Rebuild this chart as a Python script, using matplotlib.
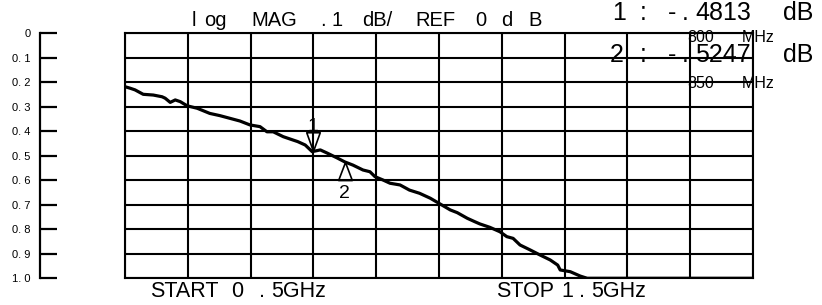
import matplotlib
matplotlib.use('Agg')
import matplotlib.pyplot as plt
import numpy as np

plt.rcParams['font.family'] = ['Liberation Sans', 'DejaVu Sans']

# trace: frequency (GHz) vs loss (dB, shown downward)
freq = [0.500, 0.508, 0.516, 0.529, 0.545, 0.559, 0.564, 0.572, 0.580, 0.588,
        0.599, 0.615, 0.635, 0.651, 0.667, 0.683, 0.699, 0.715, 0.726, 0.736,
        0.752, 0.768, 0.775, 0.787, 0.798, 0.811, 0.822, 0.838, 0.850, 0.863,
        0.879, 0.890, 0.898, 0.911, 0.922, 0.938, 0.953, 0.969, 0.986, 1.002,
        1.018, 1.029, 1.045, 1.057, 1.065, 1.081, 1.097, 1.108, 1.118, 1.129,
        1.145, 1.161, 1.177, 1.189, 1.193, 1.209, 1.225, 1.236, 1.500]
loss = [0.218, 0.224, 0.231, 0.249, 0.252, 0.259, 0.265, 0.282, 0.272, 0.279,
        0.296, 0.306, 0.327, 0.336, 0.347, 0.358, 0.374, 0.381, 0.402, 0.402,
        0.422, 0.436, 0.442, 0.456, 0.483, 0.476, 0.489, 0.509, 0.525, 0.538,
        0.558, 0.565, 0.585, 0.599, 0.612, 0.619, 0.640, 0.653, 0.673, 0.697,
        0.721, 0.732, 0.755, 0.769, 0.778, 0.792, 0.810, 0.830, 0.837, 0.864,
        0.884, 0.905, 0.925, 0.946, 0.966, 0.973, 0.991, 1.000, 1.000]

marker_freq = [0.80, 0.85]
marker_loss = [0.4813, 0.5247]
marker_names = ['1', '2']

scale_ticks = np.linspace(0, 1, 11)
scale_labels = ['0', '0. 1', '0. 2', '0. 3', '0. 4', '0. 5', '0. 6', '0. 7',
                '0. 8', '0. 9', '1. 0']

W, H = 822, 305
fig = plt.figure(figsize=(W / 100, H / 100), dpi=100)


def put_tokens(tokens, baseline, size):
    """place screen text piece by piece (x in pixels from left, baseline in pixels from top)"""
    for s, x in tokens:
        fig.text(x / W, 1 - baseline / H, s, fontsize=size, va='baseline',
                 ha='left', zorder=10)


# main graticule
ax = fig.add_axes([125 / W, 1 - 278.3 / H, 628 / W, 245 / H])
ax.set_xlim(0.5, 1.5)
ax.set_ylim(1.0, 0.0)
ax.set_xticks(np.linspace(0.5, 1.5, 11))
ax.set_yticks(scale_ticks)
ax.tick_params(length=0, labelbottom=False, labelleft=False)
ax.grid(True, color='black', lw=1.5)
for s in ax.spines.values():
    s.set_linewidth(1.5)

ax.plot(freq, loss, color='black', lw=2.3, zorder=3)

# marker triangles (tip sits on the trace)
down_tri = [(0, 0), (-0.36, 1), (0.36, 1), (0, 0)]
up_tri = [(0, 0), (-0.38, -1), (0.38, -1), (0, 0)]
ax.plot(marker_freq[0], marker_loss[0], marker=down_tri, ms=27, mfc='none',
        mec='black', mew=1.2, zorder=4)
ax.plot(marker_freq[1], marker_loss[1], marker=up_tri, ms=26, mfc='none',
        mec='black', mew=1.2, zorder=4)
ax.annotate(marker_names[0], (marker_freq[0], marker_loss[0]), xytext=(0, 14.5),
            textcoords='offset points', ha='center', va='baseline', fontsize=14)
ax.annotate(marker_names[1], (marker_freq[1], marker_loss[1]), xytext=(0, -16.5),
            textcoords='offset points', ha='center', va='top', fontsize=14)

# left scale
sx = fig.add_axes([40 / W, 1 - 278.3 / H, 30 / W, 245 / H])
sx.set_ylim(1.0, 0.0)
sx.set_yticks(scale_ticks)
sx.set_yticklabels(scale_labels)
sx.set_xticks([])
for k in ['top', 'right', 'bottom']:
    sx.spines[k].set_visible(False)
sx.spines['left'].set_linewidth(1.6)
sx.tick_params(axis='y', direction='in', length=12.5, width=1.6, pad=7,
               labelsize=8)
sx.patch.set_visible(False)

# screen annotations
put_tokens([('l', 192), ('og', 204), ('MAG', 251), ('.', 320), ('1', 331),
            ('dB/', 362), ('REF', 415), ('0', 475), ('d', 501), ('B', 528)],
           26, 14.5)
put_tokens([('1', 612), (':', 640), ('-', 668), ('.', 682), ('4813', 695),
            ('dB', 783)], 20, 18)
put_tokens([('2', 610), (':', 640), ('-', 668), ('.', 682), ('5247', 695),
            ('dB', 783)], 62, 18)
put_tokens([('800', 687), ('MHz', 742)], 42, 11.5)
put_tokens([('850', 687), ('MHz', 742)], 88, 11.5)
put_tokens([('START', 150), ('0', 231), ('.', 259), ('5GHz', 271)], 297, 15.5)
put_tokens([('STOP', 496), ('1', 561), ('.', 579), ('5GHz', 591)], 297, 15.5)

plt.savefig('out.png', dpi=100)
